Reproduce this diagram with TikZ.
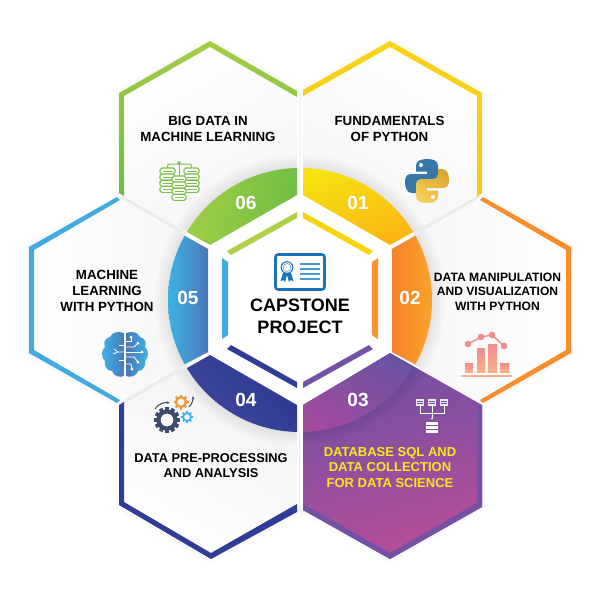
\documentclass[tikz,border=0pt]{standalone}
\usepackage{fontspec}
\setmainfont{Liberation Sans}
\usetikzlibrary{arrows.meta}
\definecolor{gearblue}{HTML}{3D4A6B}
\definecolor{greensix}{HTML}{7CC04B}
\definecolor{pybl}{HTML}{3776A9}
\definecolor{pyya}{HTML}{F5CF5A}
\definecolor{pyyb}{HTML}{DBA62F}
\definecolor{certb}{HTML}{1C75BC}
\definecolor{certl}{HTML}{4A97CF}
\definecolor{salm}{HTML}{F28B8F}
\definecolor{salml}{HTML}{FBB08A}
\definecolor{hexA}{HTML}{6D50A2}
\definecolor{hexB}{HTML}{B84E9A}
\definecolor{segA}{HTML}{6953A4}
\definecolor{segB}{HTML}{A04B9D}
\definecolor{purp}{HTML}{7351A3}
\definecolor{dkblue}{HTML}{2F3D96}
\definecolor{ltblue}{HTML}{41AADF}
\definecolor{orng}{HTML}{F98D2B}
\definecolor{yelw}{HTML}{FBC714}
\definecolor{lime}{HTML}{A5CD45}
\definecolor{grn}{HTML}{6ABD45}
\definecolor{paleY}{HTML}{F6E81C}
\definecolor{sixA}{HTML}{A9CF46}
\definecolor{sixB}{HTML}{6FBE45}
\definecolor{oneA}{HTML}{F5E20F}
\definecolor{oneB}{HTML}{FBB216}
\definecolor{twoA}{HTML}{F6822B}
\definecolor{twoB}{HTML}{F9A629}
\definecolor{fivA}{HTML}{3DB6E6}
\definecolor{fivB}{HTML}{4A78BA}
\definecolor{fouA}{HTML}{46479F}
\definecolor{fouB}{HTML}{2A3990}
\definecolor{stripG}{HTML}{AFD045}
\definecolor{stripY}{HTML}{F9D408}
\definecolor{stripO}{HTML}{F9962A}
\definecolor{gearO}{HTML}{F09A3E}
\definecolor{gearC}{HTML}{3FB4E6}
\tikzset{
  x=1pt,y=-1pt,
  lbl/.style={align=center,inner sep=0pt,font=\bfseries\fontsize{13.3}{16.2}\selectfont,text=black},
  num/.style={inner sep=0pt,font=\bfseries\fontsize{19}{19}\selectfont,text=white},
  band/.style={draw=black!8,line width=3pt},
  whiteline/.style={draw=white,line width=0.8pt}
}
\newcommand{\gshade}[4]{\shade[top color=#1,bottom color=#2,shading angle=#3] #4;}
\newcommand{\ringshadow}[1]{\begin{scope}\clip #1;
  \foreach \r in {133,135,...,145}{\fill[black,opacity=0.01] (300,300) circle[radius=\r pt];}
  \end{scope}}
\newcommand{\seg}[4]{\begin{scope}\clip (300,300) circle[radius=132pt];\gshade{#1}{#2}{#3}{#4}\end{scope}}
\newcommand{\geartoy}[5]{%
  \begin{scope}[shift={(#1,#2)}]
    \foreach \a in {1,...,#4}{\draw[#5,line width=#3*0.30pt] ({\a*360/#4}:{#3*0.7}) -- ({\a*360/#4}:#3);}
    \draw[#5,line width=#3*0.32pt] (0,0) circle[radius=#3*0.66pt];
  \end{scope}}
\newcommand{\dbdisk}[3]{%
  \foreach \k in {0,1,2,3}{
   \draw[greensix,fill=white,line width=1.1pt,rounded corners=1.8pt] ({#1-#3/2},{#2+\k*6.1}) rectangle ({#1+#3/2},{#2+\k*6.1+6});
   \draw[greensix,line width=0.7pt] ({#1-#3/2+2.5},{#2+\k*6.1+3}) -- ({#1+#3/2-2.5},{#2+\k*6.1+3});}
}
\newcommand{\minitable}[1]{%
  \fill[white!88!purp] (#1,399) rectangle ++(8,7);
  \foreach \q in {401.2,403.6}{\draw[purp,line width=0.5pt] (#1+1,\q) -- (#1+7,\q);}
}
\newcommand{\pysnake}{(-11,-15) .. controls (-11,-20) and (-7,-22) .. (0,-22) .. controls (7,-22) and (11,-20) .. (11,-15) -- (11,-3) .. controls (11,0) and (9,2) .. (6,2) -- (-6,2) .. controls (-9,2) and (-11,4) .. (-11,7) -- (-11,12) -- (-15,12) .. controls (-20,12) and (-22,7) .. (-22,1) .. controls (-22,-5) and (-20,-7) .. (-15,-7) -- (0,-7) -- (0,-9.5) -- (-11,-9.5) -- cycle}
\begin{document}
\begin{tikzpicture}
\useasboundingbox (0,0) rectangle (600,600);
\fill[white] (0,0) rectangle (600,600);

% soft outer shadow
\foreach \w in {2,4,6,8}{
 \draw[black,opacity=0.007,line width=\w pt,line join=round] (119,93)--(210,41)--(297,91)--(303,91)--(390,41)--(481,93)--(481,197)--(571,247)--(571,353)--(482,405)--(482,507)--(390,559)--(303,510)--(297,512)--(210,559)--(119,507)--(119,405)--(29,353)--(29,247)--(119,197)--cycle;}

% hexagon faces
\def\hexsix{(119,93)--(210,41)--(297,91)--(297,168)--(187,232)--(119,195)--cycle}
\def\hexone{(303,91)--(390,41)--(481,93)--(481,195)--(413,233)--(303,168)--cycle}
\def\hextwo{(392,249)--(480,197)--(571,247)--(571,353)--(480,403)--(392,352)--cycle}
\def\hexfive{(208,249)--(120,197)--(29,247)--(29,353)--(120,403)--(208,352)--cycle}
\def\hexfour{(119,405)--(187,367)--(297,432)--(297,512)--(210,559)--(119,507)--cycle}
\def\hexthree{(303,405)--(390,353)--(482,405)--(482,507)--(390,559)--(303,510)--cycle}
\gshade{white}{black!4}{30}{\hexsix}
\gshade{white}{black!4}{-30}{\hexone}
\gshade{white}{black!4}{-90}{\hextwo}
\gshade{white}{black!4}{90}{\hexfive}
\gshade{white}{black!5}{150}{\hexfour}
\ringshadow{\hexsix}\ringshadow{\hexone}\ringshadow{\hextwo}\ringshadow{\hexfive}\ringshadow{\hexfour}

% gaps between hexagons
\draw[band] (121,196.5) -- (186,234);
\draw[band] (479,196.5) -- (414,234);
\draw[band] (121,403.5) -- (186,366);
\draw[black!4,line width=2pt] (300,91) -- (300,168);
\draw[black!4,line width=2pt] (300,432) -- (300,510);

% hexagon 03 filled
\gshade{hexA}{hexB}{15}{\hexthree}
\ringshadow{\hexthree}
\fill[purp] (303,510)--(390,559)--(482,507)--(482,405)--(477,408)--(477,503)--(390,553)--(303,504)--cycle;

% outer strokes
\gshade{lime}{grn}{0}{(119,193)--(119,93)--(210,41)--(297,91)--(297,97)--(210,47)--(124,96)--(124,196)--cycle}
\gshade{yelw!60!paleY}{yelw}{0}{(303,90)--(390,41)--(482,93)--(482,193)--(477,197)--(477,96)--(390,47)--(303,96)--cycle}
\fill[orng] (483,197)--(571,247)--(571,353)--(483,403)--(480,400)--(566,350)--(566,250)--(480,200)--cycle;
\fill[ltblue] (117,197)--(29,247)--(29,353)--(117,403)--(120,400)--(34,350)--(34,250)--(120,200)--cycle;
\fill[dkblue] (119,505)--(119,405)--(124,402)--(124,502)--(211,553)--(297,504)--(297,512)--(211,559)--cycle;

% ring segments
\seg{sixA}{sixB}{80}{(297,165)--(297,195)--(210,245)--(187,232)--(170,215)--(200,170)--cycle}
\seg{oneA}{oneB}{20}{(303,165)--(303,195)--(390,245)--(413,232)--(430,215)--(400,170)--cycle}
\seg{twoA}{twoB}{90}{(392,249)--(415,236)--(435,225)--(435,375)--(415,364)--(392,352)--cycle}
\seg{fivB}{fivA}{-90}{(208,249)--(185,236)--(165,225)--(165,375)--(185,364)--(208,352)--cycle}
\seg{fouA}{fouB}{135}{(297,435)--(297,405)--(210,355)--(187,368)--(170,385)--(200,430)--cycle}
\seg{segA}{segB}{-30}{(303,435)--(303,405)--(390,354)--(413,368)--(430,385)--(400,430)--cycle}

% inner strips
\fill[stripG] (297,212)--(297,218)--(231,255)--(227,251)--cycle;
\fill[stripY] (303,212)--(303,218)--(369,255)--(373,251)--cycle;
\fill[stripO] (378,258)--(372,262)--(372,335)--(378,339)--cycle;
\fill[ltblue] (222,258)--(228,262)--(228,335)--(222,339)--cycle;
\fill[dkblue] (297,388)--(297,382)--(231,345)--(227,349)--cycle;
\fill[purp] (303,388)--(303,382)--(369,345)--(373,349)--cycle;

% certificate icon
\draw[certb,line width=2.6pt,fill=white,rounded corners=2.5pt] (275.5,254.5) rectangle (324.5,289.5);
\draw[certb,fill=white,line width=1pt] (287,267.5) circle[radius=5.8pt];
\draw[certl,line width=0.5pt] (287,267.5) circle[radius=4pt];
\fill[certb] (283,273)--(280.5,281)--(283.5,280)--(285,282)--(287,275)--(289,282)--(290.5,280)--(293.5,281)--(291,273)--cycle;
\foreach \yy in {264,269,274,279}{\draw[certl,line width=1.1pt] (300,\yy) -- (320,\yy);}

% database icon (06)
\draw[greensix,line width=1pt,rounded corners=2pt] (167.5,169) -- (167.5,164) -- (191.5,164) -- (191.5,169);
\draw[greensix,line width=1pt] (179,163) -- (179,177);
\fill[greensix] (179,163) circle[radius=1.8pt];
\dbdisk{167.5}{168}{15}
\dbdisk{191.5}{168}{15}
\dbdisk{179}{176}{14}

% python logo (01)
\begin{scope}[shift={(427,181)}]
  \fill[pybl] \pysnake;
  \fill[white] (-6,-16) circle[radius=2pt];
  \begin{scope}[rotate=180]
    \shade[top color=pyyb,bottom color=pyya,shading angle=-30] \pysnake;
    \fill[white] (-6,-16) circle[radius=2pt];
  \end{scope}
\end{scope}

% chart icon (02)
\gshade{salm}{salml}{0}{(465,363) rectangle (473,372)}
\gshade{salm}{salml}{0}{(477,348) rectangle (485,372)}
\gshade{salm}{salml}{0}{(488,344) rectangle (497,372)}
\gshade{salm}{salml}{0}{(500,363) rectangle (509,372)}
\draw[salml,line width=1.4pt] (461,376) -- (512,376);
\draw[salm,line width=1.4pt] (468,344) -- (481,337) -- (492,335) -- (504,346);
\foreach \px/\py in {468/344,481/337,492/335,504/346}{\fill[salm] (\px,\py) circle[radius=3.3pt];}

% brain icon (05)
\gshade{fivA}{fivB}{90}{(124,333) .. controls (118,331) and (112,332) .. (110,337) .. controls (105,338) and (103,343) .. (105,347) .. controls (101,350) and (101,358) .. (105,361) .. controls (104,366) and (107,371) .. (112,371) .. controls (113,376) and (120,378) .. (124,376) -- cycle}
\gshade{fivB}{fivA}{90}{(126,333) .. controls (132,331) and (138,332) .. (140,337) .. controls (145,338) and (147,343) .. (145,347) .. controls (149,350) and (149,358) .. (145,361) .. controls (146,366) and (143,371) .. (138,371) .. controls (137,376) and (130,378) .. (126,376) -- cycle}
\draw[whiteline] (124,352) -- (118,352) -- (114,349);
\draw[whiteline] (118,352) -- (113,354);
\draw[whiteline] (124,345) -- (119,345);
\draw[whiteline] (124,360) -- (119,360);
\draw[whiteline] (126,341) -- (131,341) -- (131,338);
\draw[whiteline] (126,347) -- (134,347) -- (138,343);
\draw[whiteline] (126,352) -- (141,352);
\draw[whiteline] (126,357) -- (134,357) -- (138,362);
\draw[whiteline] (126,364) -- (131,364) -- (132,369);
\foreach \px/\py in {131/337,138/343,142/352,138/362,132/369}{\fill[white] (\px,\py) circle[radius=1.5pt];}

% gears icon (04)
\geartoy{167}{420}{13}{12}{gearblue}
\geartoy{181}{402}{7.5}{8}{gearO}
\geartoy{187}{417}{6}{8}{gearC}
\draw[gearblue,line width=1pt,-{Stealth[length=3.5pt]}] (155,409) .. controls (158,404) and (164,402) .. (170,403);
\draw[gearblue,line width=1pt,-{Stealth[length=3.5pt]}] (189,407) .. controls (192,404) and (193,400) .. (193,396);

% database diagram icon (03)
\minitable{416}\minitable{428}\minitable{440}
\draw[white,line width=0.7pt] (420,406) -- (420,413) -- (444,413) -- (444,406);
\draw[white,line width=0.7pt,-{Stealth[length=2.5pt]}] (432,406) -- (432,420);
\foreach \k in {0,1,2}{\fill[white] (426,{421.5+\k*4}) rectangle (437.5,{424.8+\k*4});}

% labels
\node[lbl] (t6) at (208,129) {BIG DATA IN\\MACHINE LEARNING};
\node[lbl] (t1) at (389.5,129) {FUNDAMENTALS\\OF PYTHON};
\node[lbl,font=\bfseries\fontsize{12.1}{14.6}\selectfont] (t2) at (497.5,291.5) {DATA MANIPULATION\\AND VISUALIZATION\\WITH PYTHON};
\node[lbl] (t5) at (107,291) {MACHINE\\LEARNING\\WITH PYTHON};
\node[lbl,font=\bfseries\fontsize{12.8}{15.2}\selectfont] (t4) at (211,465.5) {DATA PRE-PROCESSING\\AND ANALYSIS};
\node[lbl,font=\bfseries\fontsize{13}{15.6}\selectfont,text=paleY] (t3) at (390,467.5) {DATABASE SQL AND\\DATA COLLECTION\\FOR DATA SCIENCE};
\node[lbl,font=\bfseries\fontsize{18}{21.5}\selectfont] (tc) at (300,316.5) {CAPSTONE\\PROJECT};

\node[num] (n6) at (246,203) {06};
\node[num] (n1) at (358,203) {01};
\node[num] (n2) at (410,298) {02};
\node[num] (n5) at (188,298) {05};
\node[num] (n4) at (246,400) {04};
\node[num] (n3) at (358,400) {03};
\end{tikzpicture}
\end{document}
